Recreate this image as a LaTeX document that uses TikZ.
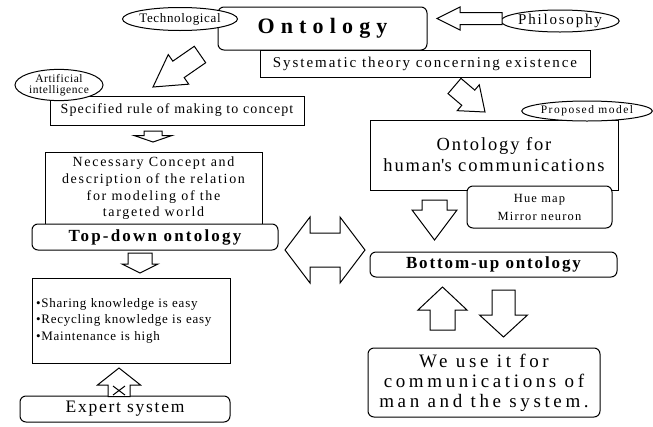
\documentclass[tikz,border=0pt]{standalone}
\usepackage{fontspec}
\setmainfont{Liberation Serif}
\usetikzlibrary{calc,shapes.geometric}
\newcommand\lsf[3]{\fontsize{#1}{#2}\selectfont\addfontfeature{LetterSpace=#3}}
\newcommand\barr[5]{%
  \path (#1) coordinate (bt) (#2) coordinate (bp);
  \path ($(bp)!#5!(bt)$) coordinate (bh);
  \draw[blk] ($(bt)!#3!90:(bp)$) -- ($(bh)!#3!90:(bp)$) -- ($(bh)!#4!90:(bp)$) -- (bp)
    -- ($(bh)!#4!-90:(bp)$) -- ($(bh)!#3!-90:(bp)$) -- ($(bt)!#3!-90:(bp)$) -- cycle;}
\begin{document}
\begin{tikzpicture}[x=1pt,y=-1pt,
  box/.style={draw, line width=1pt, inner sep=0pt, fill=white, align=center},
  rbox/.style={box, rounded corners=6pt},
  oval/.style={draw, ellipse, line width=1pt, inner sep=0pt, fill=white, align=center},
  blk/.style={draw, line width=1pt, fill=white, line join=miter}]
\useasboundingbox (0,0) rectangle (653,426);
% top
\node[rbox, minimum width=209pt, minimum height=43pt, font=\lsf{22}{24}{28}\bfseries] (ont) at (322.5,28.5) {Ontology};
\node[oval, minimum width=104pt, minimum height=23pt, font=\lsf{13}{14}{5}] (tech) at (180,19) {Technological};
\node[oval, minimum width=110pt, minimum height=22pt, font=\lsf{15}{16}{12}] (phil) at (560,21) {Philosophy};
\node[box, minimum width=330pt, minimum height=27pt, font=\lsf{15}{17}{13}] (sys) at (425,63.5) {Systematic theory concerning existence};
% left column
\node[box, minimum width=254pt, minimum height=29pt, font=\lsf{14}{15}{8}] (spec) at (177,110.5) {Specified rule of making to concept};
\node[oval, minimum width=88pt, minimum height=24pt, font=\lsf{11.5}{11.5}{5}] (ai) at (59,85) {Artificial\\intelligence};
\node[box, minimum width=217pt, minimum height=73pt, font=\lsf{14}{16.7}{12}] (nec) at (153.5,188.5) {Necessary Concept and\\description of the relation\\for modeling of the\\targeted world};
\node[rbox, minimum width=246pt, minimum height=26pt, font=\lsf{17}{18}{13}\bfseries] (td) at (155,237) {Top-down ontology};
\node[box, minimum width=198pt, minimum height=85pt, text width=190pt, align=left, font=\lsf{13}{16.5}{6}] (adv) at (131,320.5) {\textbullet Sharing knowledge is easy\\\textbullet Recycling knowledge is easy\\\textbullet Maintenance is high};
\node[rbox, minimum width=210pt, minimum height=26pt, font=\lsf{17.5}{19}{10}] (exp) at (125,409) {Expert system};
% right column
\node[box, minimum width=248pt, minimum height=70pt, font=\lsf{18.5}{21}{10}] (hum) at (494,155) {Ontology for\\human\textquotesingle s communications};
\node[oval, minimum width=108pt, minimum height=20pt, font=\lsf{11.5}{13}{13}] (prop) at (587,111) {Proposed model};
\node[rbox, minimum width=145pt, minimum height=42pt, font=\lsf{12.5}{18}{9}] (hue) at (539.5,207) {Hue map\\Mirror neuron};
\node[rbox, minimum width=247pt, minimum height=25pt, font=\lsf{17}{18}{11}\bfseries] (bu) at (493.5,264.5) {Bottom-up ontology};
\node[rbox, minimum width=232pt, minimum height=69pt, font=\lsf{19}{20}{19}] (use) at (484,382.5) {We use it for\\communications of\\man and the system.};
% block arrows
\coordinate (phT) at (502,18.5); \coordinate (phP) at (437,18.5);
\barr{phT}{phP}{6pt}{11.5pt}{23pt}
\coordinate (teT) at (200,54.5); \coordinate (teP) at (153,87);
\barr{teT}{teP}{10pt}{18pt}{31pt}
\coordinate (syT) at (454.5,86); \coordinate (syP) at (485,112);
\barr{syT}{syP}{10pt}{17pt}{22pt}
\coordinate (spT) at (153,131); \coordinate (spP) at (153,142);
\barr{spT}{spP}{9pt}{19pt}{6.5pt}
\coordinate (tdT) at (140,253); \coordinate (tdP) at (140,273);
\barr{tdT}{tdP}{12pt}{18pt}{9pt}
\coordinate (exT) at (119,396.5); \coordinate (exP) at (119,368);
\barr{exT}{exP}{11pt}{21.5pt}{17pt}
\draw[line width=1pt] (113,386) -- (125,395) (113,395) -- (125,386);
\coordinate (huT) at (434.5,200); \coordinate (huP) at (434.5,240);
\barr{huT}{huP}{12.5pt}{22.5pt}{30pt}
\coordinate (buT) at (442.5,330); \coordinate (buP) at (442.5,287);
\barr{buT}{buP}{12.5pt}{24.5pt}{23pt}
\coordinate (usT) at (503.5,290); \coordinate (usP) at (503.5,337);
\barr{usT}{usP}{11.5pt}{24pt}{22pt}
% double arrow
\draw[blk] (285,250) -- (310,217) -- (310,233) -- (340,233) -- (340,217) -- (365,250)
  -- (340,283) -- (340,267) -- (310,267) -- (310,283) -- cycle;
\end{tikzpicture}
\end{document}
